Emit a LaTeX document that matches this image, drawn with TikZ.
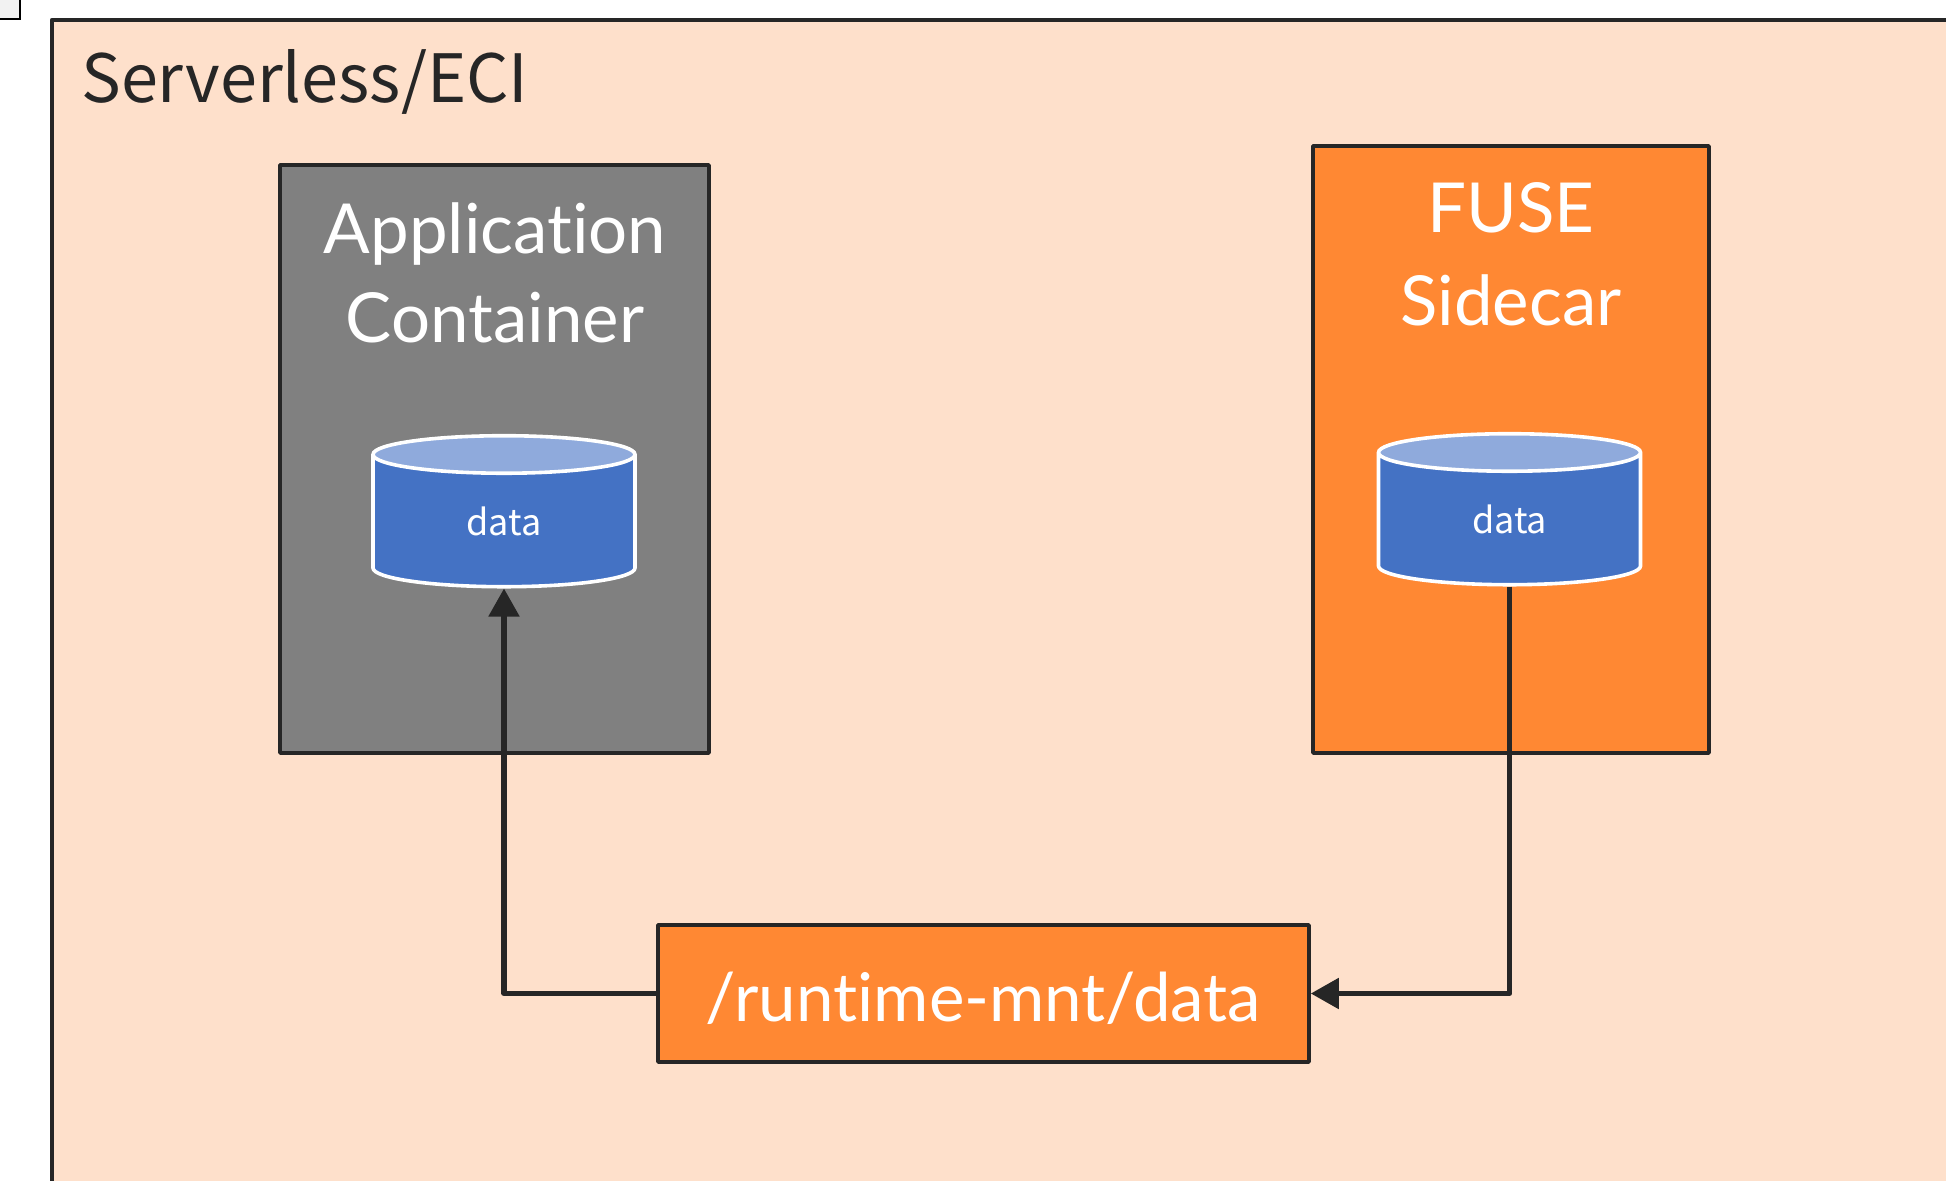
\documentclass[tikz,border=0pt]{standalone}
\usepackage{fontspec}
\setmainfont[Ligatures=NoCommon]{Lato}
\newfontfamily\labelfont{Noto Sans CJK SC}
\usetikzlibrary{shapes.geometric}
\usetikzlibrary{arrows.meta}
\definecolor{linedark}{HTML}{262626}
\definecolor{groupfill}{HTML}{FEE0CB}
\definecolor{appgray}{HTML}{808080}
\definecolor{fuseorange}{HTML}{FF8833}
\definecolor{datablue}{HTML}{4472C4}
\definecolor{datatop}{HTML}{8FAADC}
\tikzset{
    boxnode/.style={draw=linedark, line width=1.8pt, line join=round, inner sep=0pt},
    titlenode/.style={text=white, font=\fontsize{34.5}{44.5}\selectfont, align=center, inner sep=0pt},
    datanode/.style={cylinder, shape border rotate=90, aspect=0.5, draw=white, line width=1.8pt,
        cylinder uses custom fill, cylinder body fill=datablue, cylinder end fill=datatop,
        minimum width=131pt, minimum height=75.5pt, inner sep=0pt, text=white,
        font=\labelfont\fontsize{18}{20}\selectfont},
    linkarrow/.style={draw=linedark, line width=2.6pt, line join=round, -{Triangle[length=14pt, width=15pt]}}
}
\begin{document}
\begin{tikzpicture}[x=0.5pt, y=-0.5pt]
            \useasboundingbox (0,0) rectangle (1946,1181);

            % Corner
            \node[draw=black, fill=gray!10, line width=1pt, minimum width=12pt, minimum height=12pt, inner sep=0pt] (corner) at (8,7) {};

            % Group
            \node[boxnode, fill=groupfill, anchor=north west, minimum width=1100pt, minimum height=700pt] (group) at (50,18) {};
            \node[anchor=base west, inner sep=0pt, text=linedark, font=\labelfont\fontsize{33.3}{40}\selectfont] (grouptitle) at (81,103) {Serverless/ECI};

            % Containers
            \node[boxnode, fill=appgray, minimum width=214.5pt, minimum height=294pt] (app) at (494.5,459) {};
            \node[titlenode, anchor=north] (apptitle) at (495,202) {Application\\Container};
            \node[boxnode, fill=fuseorange, minimum width=198pt, minimum height=303.5pt] (fuse) at (1511,449.5) {};
            \node[titlenode, anchor=north, font=\fontsize{34.5}{46.5}\selectfont] (fusetitle) at (1511,182) {FUSE\\Sidecar};

            % Data
            \node[datanode] (appdata) at (504,521.5) {data};
            \node[datanode] (fusedata) at (1509.5,519.5) {data};

            % Mount
            \node[boxnode, fill=fuseorange, minimum width=325.5pt, minimum height=68.5pt] (mnt) at (983.5,993.5) {};
            \node[titlenode, font=\fontsize{33.6}{40}\selectfont] (mnttitle) at (983.5,998.5) {/runtime-mnt/data};

            % Links
            \draw[linkarrow] (mnt.west) -| (appdata.south);
            \draw[linkarrow] (fusedata.south) |- (mnt.east);

\end{tikzpicture}
\end{document}
